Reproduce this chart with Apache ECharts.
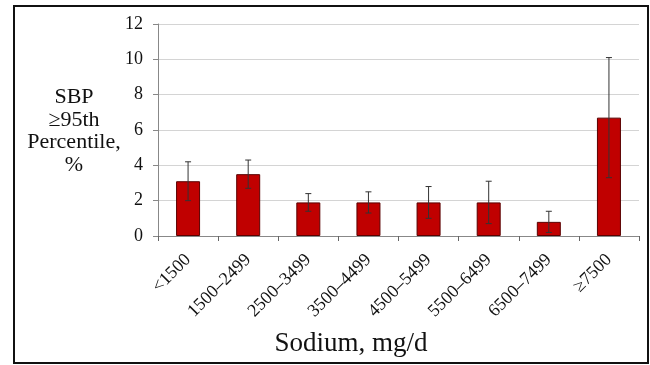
<!DOCTYPE html>
<html>
<head>
<meta charset="utf-8">
<script src="https://cdn.jsdelivr.net/npm/echarts@6/dist/echarts.min.js"></script>
<style>
  html, body { margin: 0; padding: 0; background: #fff; }
  #frame { position: absolute; left: 13px; top: 5px; width: 632px; height: 355px; border: 2px solid #111; }
  #chart { position: absolute; left: 0; top: 0; width: 650px; height: 365px; }
</style>
</head>
<body>
<div id="frame"></div>
<div id="chart"></div>
<script>
// Sodium intake groups (mg/d)
const categories = ['<1500', '1500–2499', '2500–3499', '3500–4499', '4500–5499', '5500–6499', '6500–7499', '≥7500'];
// Share with SBP ≥95th percentile, %
const prevalence = [3.1, 3.5, 1.9, 1.9, 1.9, 1.9, 0.8, 6.7];
// 95% CI bounds
const ciLow = [2.0, 2.7, 1.4, 1.3, 1.0, 0.7, 0.2, 3.3];
const ciHigh = [4.2, 4.3, 2.4, 2.5, 2.8, 3.1, 1.4, 10.1];
const yTicks = [0, 2, 4, 6, 8, 10, 12];

const serif = '"Liberation Serif", "Times New Roman", serif';
const chart = echarts.init(document.getElementById('chart'), null, { renderer: 'canvas' });

chart.setOption({
  animation: false,
  grid: { left: 158, right: 11, top: 24, bottom: 129, containLabel: false },
  xAxis: {
    type: 'category',
    data: categories,
    axisLine: { lineStyle: { color: '#888', width: 1 } },
    axisTick: { show: true, alignWithLabel: false, length: 5, lineStyle: { color: '#666' } },
    axisLabel: { rotate: 45, margin: 21, fontFamily: serif, fontSize: 18, color: '#111', interval: 0 }
  },
  yAxis: {
    type: 'value',
    min: yTicks[0],
    max: yTicks[yTicks.length - 1],
    interval: 2,
    axisLine: { show: true, lineStyle: { color: '#888', width: 1 } },
    axisTick: { show: true, length: 5, lineStyle: { color: '#888' } },
    splitLine: { lineStyle: { color: '#d4d4d4', width: 1 } },
    axisLabel: { fontFamily: serif, fontSize: 18, color: '#111', margin: 15 }
  },
  graphic: [
    {
      type: 'text',
      x: 74,
      y: 86,
      style: {
        text: 'SBP\n≥95th\nPercentile,\n%',
        font: '22px ' + serif,
        fill: '#111',
        align: 'center',
        verticalAlign: 'top',
        lineHeight: 22.5
      }
    },
    {
      type: 'text',
      x: 351,
      y: 330,
      style: {
        text: 'Sodium, mg/d',
        font: '27px ' + serif,
        fill: '#111',
        align: 'center',
        verticalAlign: 'top'
      }
    }
  ],
  series: [
    {
      type: 'bar',
      data: prevalence,
      barWidth: 24,
      itemStyle: { color: '#c00000', borderColor: '#5a0000', borderWidth: 1 }
    },
    {
      type: 'custom',
      data: categories.map((c, i) => [i, ciLow[i], ciHigh[i]]),
      z: 10,
      renderItem: function (params, api) {
        const lo = api.coord([api.value(0), api.value(1)]);
        const hi = api.coord([api.value(0), api.value(2)]);
        const cap = 3;
        const st = { stroke: '#333', lineWidth: 1 };
        return {
          type: 'group',
          children: [
            { type: 'line', shape: { x1: hi[0], y1: hi[1], x2: lo[0], y2: lo[1] }, style: st },
            { type: 'line', shape: { x1: hi[0] - cap, y1: hi[1], x2: hi[0] + cap, y2: hi[1] }, style: st },
            { type: 'line', shape: { x1: lo[0] - cap, y1: lo[1], x2: lo[0] + cap, y2: lo[1] }, style: st }
          ]
        };
      }
    }
  ]
});
</script>
</body>
</html>
